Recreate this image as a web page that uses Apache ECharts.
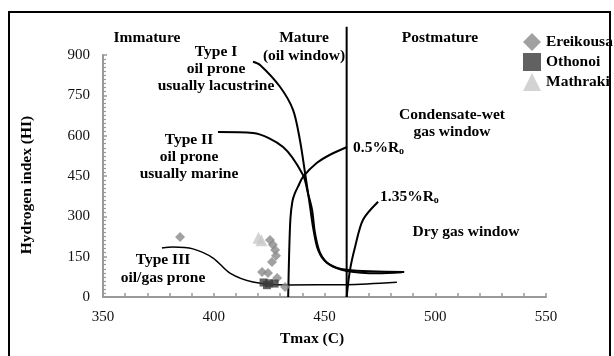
<!DOCTYPE html>
<html><head><meta charset="utf-8">
<script src="https://cdn.jsdelivr.net/npm/echarts@6/dist/echarts.min.js"></script>
<style>html,body{margin:0;padding:0;background:#fff}#c{width:614px;height:356px}</style>
</head><body><div id="c"></div>
<script>
// ---- data ----
const xTickLabels = [350, 400, 450, 500, 550];
const yTickLabels = [0, 150, 300, 450, 600, 750, 900];

const ereikousa = [[384.8,223],[425.4,212],[426.7,194],[427.7,175],[428.1,153],[426.3,130],[421.8,93],[424.5,89],[428.6,71],[432.2,37]];
const othonoi   = [[422.5,54],[425,51],[427.5,50],[424,44]];
const mathraki  = [[420.2,220],[421.5,211]];

const typeI   = [[417.7,875],[420.9,863],[429.9,782],[435.8,696],[438.9,584],[441.2,462],[443.5,335],[444.8,261],[447.1,175],[451.1,127],[460,101],[486,93]];
const typeII  = [[401.9,614],[417.7,610],[431.3,558],[440.3,454],[442.5,387],[444.4,324],[445.7,238],[448,164],[452.5,119],[460,97],[474,88],[485,92]];
const typeIII = [[376.6,182],[381.6,186],[390.6,179],[399.7,145],[407.3,89],[417.7,56],[433.1,45],[460,46],[482.7,55]];
const ro05    = [[433.6,0],[434,150],[434.6,290],[435.5,355],[436.6,385],[438.2,413],[440.3,447],[446.6,499],[452.5,529],[460.2,558]];
const ro135   = [[460,0],[461.5,100],[463.8,186],[467.4,287],[474.2,354]];
const oilWindowEnd = [[460,0],[460,1005]];

const FONT = '"Liberation Serif", "Times New Roman", serif';
const chart = echarts.init(document.getElementById('c'));

function curve(name, data, w) {
  return { name, type:'line', data, symbol:'none', smooth:0.3, clip:false, silent:true,
    lineStyle:{color:'#000', width:w}, z:3 };
}
function txt(t, x, y, align) {
  return { type:'text', x, y, z:10, silent:true,
    style:{ text:t, font:'bold 15.5px ' + FONT, fill:'#000', align: align || 'center', verticalAlign:'middle' } };
}
function roTxt(main, x, y) {
  return { type:'text', x, y, z:10, silent:true,
    style:{ text: main + '{s|o}', font:'bold 15.5px ' + FONT, fill:'#000', align:'left', verticalAlign:'middle',
      rich:{ s:{ font:'bold 10px ' + FONT, fill:'#000', verticalAlign:'bottom', padding:[4,0,0,0] } } } };
}

chart.setOption({
  animation:false,
  backgroundColor:'#fff',
  grid:{ left:103, right:68, top:55, bottom:59 },
  xAxis:{ type:'value', min:350, max:550, interval:10,
    axisLine:{ lineStyle:{ color:'#999', width:2 } },
    axisTick:{ inside:true, length:4, lineStyle:{ color:'#999', width:1.5 } },
    axisLabel:{ margin:13, color:'#111', fontFamily:FONT, fontSize:15,
      formatter: v => xTickLabels.includes(v) ? String(v) : '' },
    splitLine:{ show:false } },
  yAxis:{ type:'value', min:0, max:900, interval:150,
    axisLine:{ show:true, lineStyle:{ color:'#999', width:2 } },
    axisTick:{ show:true, inside:true, length:4, lineStyle:{ color:'#999', width:1.5 } },
    minorTick:{ show:true, splitNumber:10, length:3, lineStyle:{ color:'#999', width:1.2 } },
    axisLabel:{ margin:13, color:'#111', fontFamily:FONT, fontSize:15,
      formatter: v => yTickLabels.includes(v) ? String(v) : '' },
    splitLine:{ show:false } },
  legend:{ orient:'vertical', left:523, top:33, padding:0, itemWidth:18, itemHeight:18, itemGap:2,
    textStyle:{ fontFamily:FONT, fontWeight:'bold', fontSize:15.5, color:'#000' },
    data:[ { name:'Ereikousa', icon:'diamond' }, { name:'Othonoi', icon:'rect' }, { name:'Mathraki', icon:'triangle' } ] },
  series:[
    curve('Type I', typeI, 2),
    curve('Type II', typeII, 2),
    curve('Type III', typeIII, 1.5),
    curve('0.5%Ro', ro05, 2),
    curve('1.35%Ro', ro135, 2),
    curve('limit', oilWindowEnd, 2),
    { name:'Ereikousa', type:'scatter', symbol:'diamond', symbolSize:10, data:ereikousa, itemStyle:{ color:'#8a8a8a' }, z:5 },
    { name:'Othonoi', type:'scatter', symbol:'rect', symbolSize:8, data:othonoi, itemStyle:{ color:'#3a3a3a' }, z:6 },
    { name:'Mathraki', type:'scatter', symbol:'triangle', symbolSize:12, data:mathraki, itemStyle:{ color:'#c8c8c8' }, z:5 }
  ],
  graphic:[
    { type:'rect', z:0, silent:true, shape:{ x:9, y:12, width:601, height:400 }, style:{ fill:'none', stroke:'#000', lineWidth:2 } },
    { type:'text', x:27, y:185, rotation:Math.PI/2, z:10, silent:true,
      style:{ text:'Hydrogen index (HI)', font:'bold 15.5px ' + FONT, fill:'#000', align:'center', verticalAlign:'middle' } },
    txt('Tmax (C)', 312, 339),
    txt('Immature', 147, 38),
    txt('Type I', 216, 52), txt('oil prone', 216, 69), txt('usually lacustrine', 216, 86),
    txt('Mature', 304, 38), txt('(oil window)', 304, 56),
    txt('Postmature', 440, 38),
    txt('Type II', 189, 140), txt('oil prone', 189, 157), txt('usually marine', 189, 174),
    txt('Condensate-wet', 452, 115), txt('gas window', 452, 132),
    roTxt('0.5%R', 353, 148),
    roTxt('1.35%R', 380, 197),
    txt('Dry gas window', 466, 232),
    txt('Type III', 163, 260), txt('oil/gas prone', 163, 278)
  ]
});
</script>
</body></html>
